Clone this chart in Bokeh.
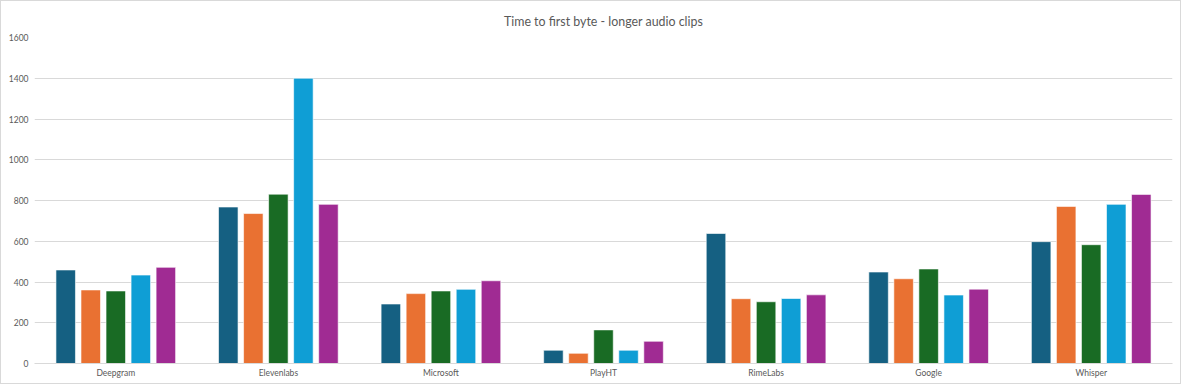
from bokeh.plotting import figure
from bokeh.models import ColumnDataSource, FixedTicker, FactorRange
from bokeh.transform import dodge
from bokeh.embed import file_html
from bokeh.resources import INLINE

providers = ["Deepgram", "Elevenlabs", "Microsoft", "PlayHT", "RimeLabs", "Google", "Whisper"]
series_1 = [459, 768, 292, 65, 638, 449, 598]
series_2 = [361, 736, 343, 50, 318, 416, 771]
series_3 = [356, 831, 356, 165, 303, 464, 583]
series_4 = [434, 1400, 364, 65, 319, 336, 781]
series_5 = [472, 781, 406, 109, 337, 365, 830]
y_ticks = [0, 200, 400, 600, 800, 1000, 1200, 1400, 1600]
title_text = "Time to first byte - longer audio clips"

colors = ["#156082", "#E97132", "#196B24", "#0F9ED5", "#A02B93"]
series = [series_1, series_2, series_3, series_4, series_5]
keys = ["s1", "s2", "s3", "s4", "s5"]

data = {"provider": providers}
for k, s in zip(keys, series):
    data[k] = s
source = ColumnDataSource(data)

FONT = "Lato"
TXT = "#595959"

p = figure(
    x_range=FactorRange(*providers),
    y_range=(0, 1600),
    width=1181, height=384,
    output_backend="svg", toolbar_location=None,
    min_border_left=33, min_border_right=10,
    min_border_top=36, min_border_bottom=22,
    title=title_text,
    styles={"border": "1px solid #D9D9D9"},
)

offsets = [-0.308, -0.154, 0.0, 0.154, 0.308]
for k, c, off in zip(keys, colors, offsets):
    p.vbar(x=dodge("provider", off, range=p.x_range), top=k, width=0.12,
           source=source, fill_color=c, line_color="white", line_width=0.6)

p.title.align = "center"
p.title.text_font = FONT
p.title.text_font_size = "12.4px"
p.title.text_font_style = "normal"
p.title.text_color = TXT
p.title.standoff = 17

p.outline_line_color = None
p.background_fill_color = "white"
p.border_fill_color = "white"

p.xgrid.grid_line_color = None
p.ygrid.grid_line_color = "#D9D9D9"
p.ygrid.grid_line_width = 1

p.yaxis.ticker = FixedTicker(ticks=y_ticks)
p.yaxis.axis_line_color = None
p.yaxis.major_tick_line_color = None
p.yaxis.major_tick_out = 0
p.yaxis.major_tick_in = 0
p.yaxis.minor_tick_line_color = None
p.yaxis.major_label_text_font = FONT
p.yaxis.major_label_text_font_size = "8.5px"
p.yaxis.major_label_text_color = TXT
p.yaxis.major_label_standoff = 6

p.xaxis.axis_line_color = "#D9D9D9"
p.xaxis.major_tick_line_color = None
p.xaxis.major_tick_out = 0
p.xaxis.major_tick_in = 0
p.xaxis.minor_tick_line_color = None
p.xaxis.major_label_text_font = FONT
p.xaxis.major_label_text_font_size = "8.5px"
p.xaxis.major_label_text_color = TXT
p.xaxis.major_label_standoff = 4

open("out.html", "w").write(file_html(p, INLINE))
